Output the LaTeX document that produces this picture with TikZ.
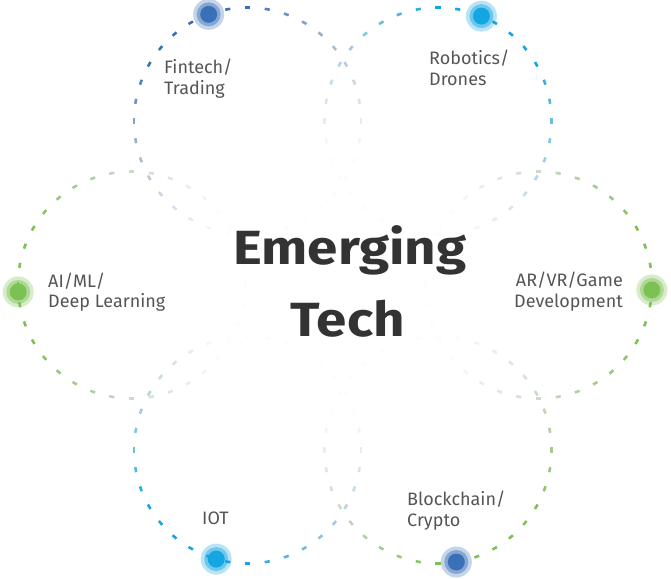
\documentclass[tikz,border=0pt]{standalone}
\usepackage{fontspec}
\setmainfont{Fira Sans}
\newfontfamily\titlefont[FakeStretch=1.14]{Fira Sans}
\usetikzlibrary{calc}
\definecolor{dblue}{HTML}{3A70B8}
\definecolor{cyanb}{HTML}{13A6E2}
\definecolor{greenb}{HTML}{7CC153}
\definecolor{fadegray}{HTML}{A0A6AA}
\definecolor{labelgray}{HTML}{555555}
\definecolor{titlegray}{HTML}{333333}
\tikzset{
  lbl/.style={inner sep=0pt, font=\fontsize{18}{21}\selectfont, text=labelgray},
  ttl/.style={inner sep=0pt, font=\titlefont\fontsize{48}{56}\selectfont\bfseries, text=titlegray},
  dashpiece/.style={line width=2.6pt},
}
\newcommand\ringdashes[3]{%
  \foreach \rdi in {0,...,35}{%
    \pgfmathsetmacro\rda{\rdi*10}%
    \pgfmathsetmacro\rdd{abs(mod(\rda-(#3)+540,360)-180)}%
    \pgfmathsetmacro\rdt{min(1,max(0,(\rdd-30)/110))}%
    \pgfmathtruncatemacro\rdm{100*(1-\rdt)}%
    \pgfmathsetmacro\rdo{1-0.97*\rdt}%
    \draw[dashpiece, draw={#2!\rdm!fadegray}, draw opacity=\rdo]
      ($(#1)+(\rda-1.3:113.5pt)$) arc[start angle=\rda-1.3, end angle=\rda+1.3, radius=113.5pt];
  }}
\newcommand\techdot[2]{%
  \fill[#2, opacity=0.3] (#1) circle[radius=15.5pt];
  \fill[#2, opacity=0.45] (#1) circle[radius=12pt];
  \fill[#2] (#1) circle[radius=8.5pt];}
\begin{document}
\begin{tikzpicture}[x=1pt,y=1pt]
\useasboundingbox (0,0) rectangle (671,578);
\coordinate (F) at (247.5,457);
\coordinate (R) at (438,457);
\coordinate (A) at (131.5,293);
\coordinate (V) at (538.5,293);
\coordinate (I) at (247.5,128);
\coordinate (B) at (438,128);
\ringdashes{F}{dblue}{120}
\ringdashes{R}{cyanb}{60}
\ringdashes{A}{greenb}{180}
\ringdashes{V}{greenb}{0}
\ringdashes{I}{cyanb}{240}
\ringdashes{B}{greenb}{300}
\coordinate (Fd) at ($(F)+(110:113.5pt)$);
\coordinate (Rd) at ($(R)+(67.5:113.5pt)$);
\coordinate (Ad) at ($(A)+(183.5:113.5pt)$);
\coordinate (Vd) at ($(V)+(-2.5:113.5pt)$);
\coordinate (Id) at ($(I)+(254:113.5pt)$);
\coordinate (Bd) at ($(B)+(279.3:113.5pt)$);
\techdot{Fd}{dblue}
\techdot{Rd}{cyanb}
\techdot{Ad}{greenb}
\techdot{Vd}{greenb}
\techdot{Id}{cyanb}
\techdot{Bd}{dblue}
\node[lbl, anchor=base west] (fin1) at (164,504) {Fintech/};
\node[lbl, anchor=base west] (fin2) at (164,483) {Trading};
\node[lbl, anchor=base west] (rob1) at (429,513) {Robotics/};
\node[lbl, anchor=base west] (rob2) at (429,492) {Drones};
\node[lbl, anchor=base west] (ai1) at (48,290) {AI/ML/};
\node[lbl, anchor=base west] (ai2) at (48,270) {Deep Learning};
\node[lbl, anchor=base east] (ar1) at (623,291) {AR/VR/Game};
\node[lbl, anchor=base east] (ar2) at (623,270) {Development};
\node[lbl, anchor=base west] (iot) at (202,54) {IOT};
\node[lbl, anchor=base west] (bc1) at (407,73) {Blockchain/};
\node[lbl, anchor=base west] (bc2) at (407,52) {Crypto};
\node[ttl, anchor=base] (em) at (350,313) {Emerging};
\node[ttl, anchor=base] (te) at (347.5,241) {Tech};
\end{tikzpicture}
\end{document}
